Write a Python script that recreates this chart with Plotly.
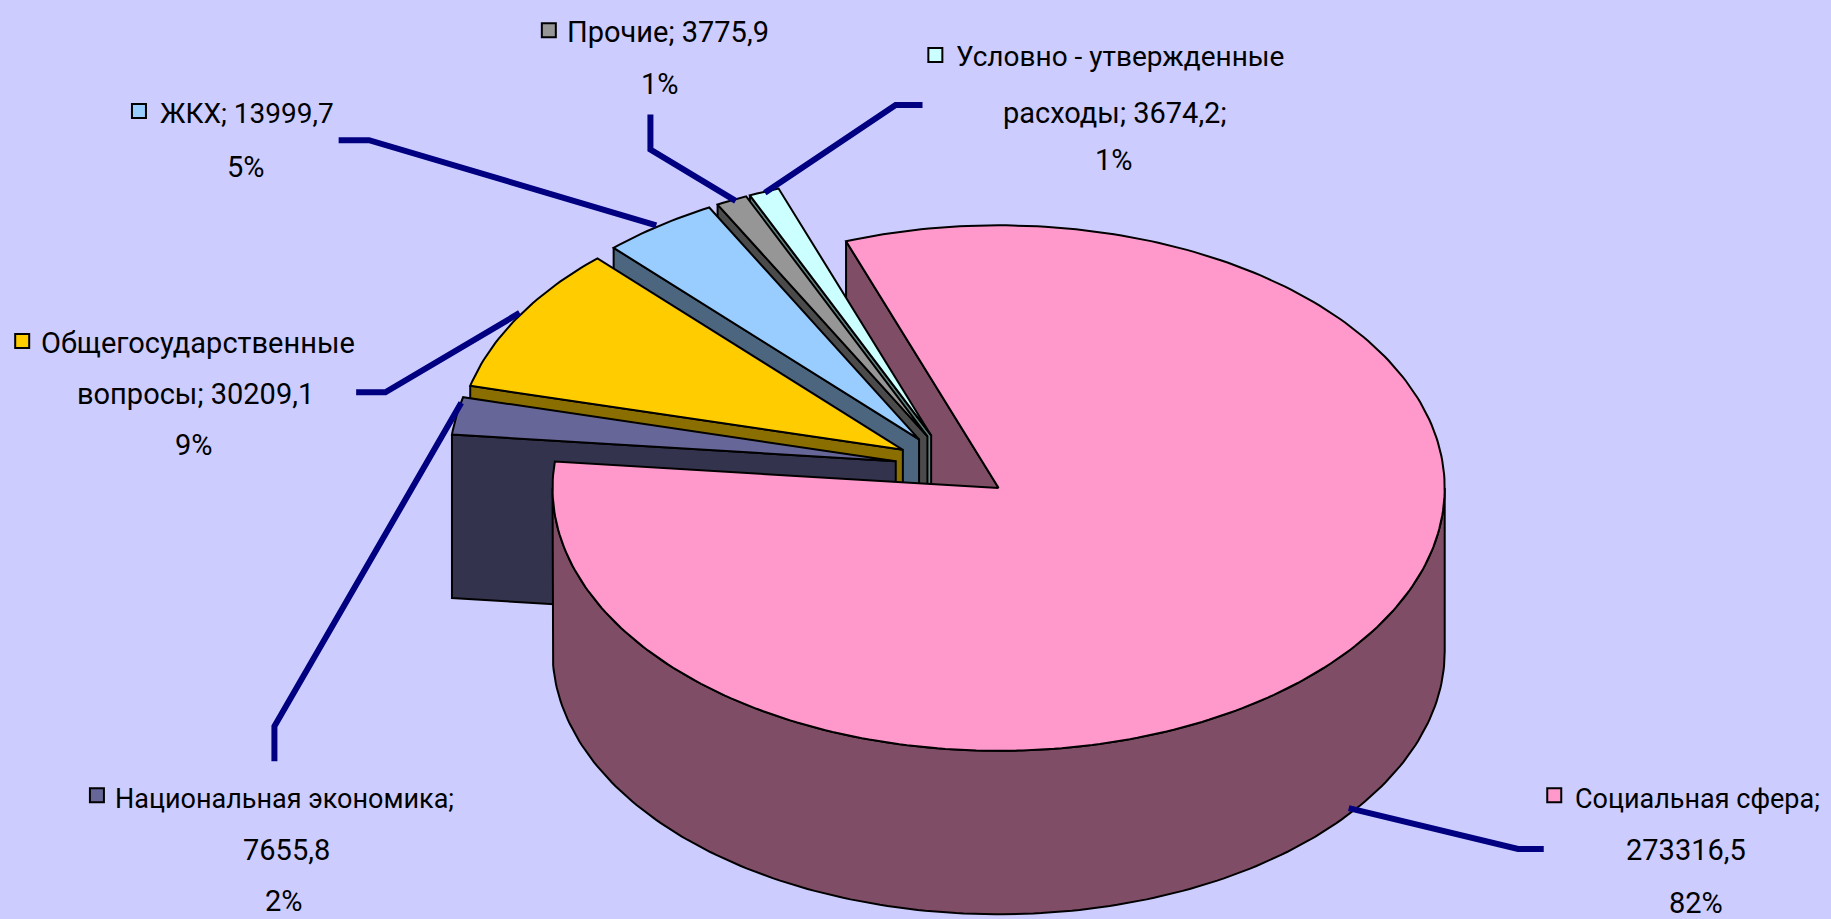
import math
import plotly.graph_objects as go

categories = ["Социальная сфера", "Национальная экономика", "Общегосударственные вопросы",
              "ЖКХ", "Прочие", "Условно - утвержденные расходы"]
values = [273316.5, 7655.8, 30209.1, 13999.7, 3775.9, 3674.2]
value_labels = ["273316,5", "7655,8", "30209,1", "13999,7", "3775,9", "3674,2"]
percent_labels = ["82%", "2%", "9%", "5%", "1%", "1%"]
top_colors = ["#FF99CC", "#666699", "#FFCC00", "#99CCFF", "#969696", "#CCFFFF"]
wall_colors = ["#804D66", "#33334D", "#8A6E00", "#4D6680", "#4B4B4B", "#668080"]

BG = "#CCCCFF"
LEADER = "#000080"
FONT = "Roboto, Liberation Sans, Arial, sans-serif"

# pixel-like plotting space of the picture (shrunk reference coordinates)
W, H = 1568, 787
CX, CY, RX, RY, DEPTH = 816, 400, 382, 225, 140
EXPLODE = 0.13
START = -20.0

total = sum(values)
spans = []
a = START
for v in values:
    spans.append((a, a + v / total * 360))
    a += v / total * 360


def rim(cx, cy, t, dz=0):
    r = math.radians(t)
    return cx + RX * math.sin(r), cy - RY * math.cos(r) + dz


def arc(cx, cy, a0, a1, dz=0):
    n = max(2, int(abs(a1 - a0)) + 1)
    return [rim(cx, cy, a0 + (a1 - a0) * i / n, dz) for i in range(n + 1)]


def apex(i):
    a0, a1 = spans[i]
    mx, my = rim(0, 0, (a0 + a1) / 2)
    return CX + EXPLODE * mx, CY + EXPLODE * my


fig = go.Figure()


def poly(pts, color):
    xs = [p[0] for p in pts] + [pts[0][0]]
    ys = [p[1] for p in pts] + [pts[0][1]]
    fig.add_trace(go.Scatter(x=xs, y=ys, mode="lines", fill="toself", fillcolor=color,
                             line=dict(color="black", width=2), hoverinfo="skip",
                             showlegend=False))


def top_face(i):
    ax, ay = apex(i)
    poly([(ax, ay)] + arc(ax, ay, *spans[i]), top_colors[i])


def cut_wall(i):
    ax, ay = apex(i)
    a0 = spans[i][0]
    r = rim(ax, ay, a0)
    poly([r, (ax, ay), (ax, ay + DEPTH), (r[0], r[1] + DEPTH)], wall_colors[i])


# back to front
cut_wall(0)
for i in range(5, 0, -1):
    cut_wall(i)
    top_face(i)
sx, sy = apex(0)
poly(arc(sx, sy, 90, 270) + arc(sx, sy, 270, 90, DEPTH), wall_colors[0])
top_face(0)

# leader lines
leaders_x = [[1155, 1300, 1322], [395, 235, 235], [445, 330, 305],
             [562, 316, 290], [630, 557, 557], [655, 767, 790]]
leaders_y = [[692, 727, 727], [345, 622, 652], [268, 336, 336],
             [193, 120, 120], [172, 128, 98], [165, 90, 90]]
for lx, ly in zip(leaders_x, leaders_y):
    fig.add_trace(go.Scatter(x=lx, y=ly, mode="lines", line=dict(color=LEADER, width=6),
                             hoverinfo="skip", showlegend=False))

# label keys
key_x = [1331, 83, 19, 119, 470, 801]
key_y = [681, 681, 292, 95, 26, 47]
fig.add_trace(go.Scatter(x=key_x, y=key_y, mode="markers", hoverinfo="skip", showlegend=False,
                         marker=dict(symbol="square", size=14, color=top_colors,
                                     line=dict(color="black", width=2))))

# label text: (text, x, y, anchor, font size)
labels = [
    ("Социальная сфера;", 1347, 684, "left", 27),
    (value_labels[0], 1444, 728, "center", 29),
    (percent_labels[0], 1452, 773, "center", 29),
    ("Национальная экономика;", 97, 684, "left", 27),
    (value_labels[1], 245, 728, "center", 29),
    (percent_labels[1], 243, 772, "center", 29),
    ("Общегосударственные", 33, 294, "left", 29),
    ("вопросы; " + value_labels[2], 167, 337, "center", 29),
    (percent_labels[2], 166, 381, "center", 29),
    ("ЖКХ; " + value_labels[3], 135, 97, "left", 28),
    (percent_labels[3], 211, 143, "center", 29),
    ("Прочие; " + value_labels[4], 484, 27, "left", 29),
    (percent_labels[4], 565, 72, "center", 29),
    ("Условно - утвержденные", 817, 48, "left", 28),
    ("расходы; " + value_labels[5] + ";", 955, 97, "center", 29),
    (percent_labels[5], 954, 137, "center", 29),
]
for text, x, y, anchor, size in labels:
    fig.add_annotation(x=x, y=y, text=text, showarrow=False, xanchor=anchor, yanchor="middle",
                       font=dict(family=FONT, size=size, color="#000000"))

fig.update_layout(
    width=1831, height=919, autosize=False,
    margin=dict(l=0, r=0, t=0, b=0),
    paper_bgcolor=BG, plot_bgcolor=BG, showlegend=False,
    xaxis=dict(range=[0, W], visible=False, fixedrange=True),
    yaxis=dict(range=[H, 0], visible=False, fixedrange=True),
)
fig.write_html("out.html", config=dict(displayModeBar=False),
               post_script="document.body.style.margin='0';document.body.style.overflow='hidden';")
